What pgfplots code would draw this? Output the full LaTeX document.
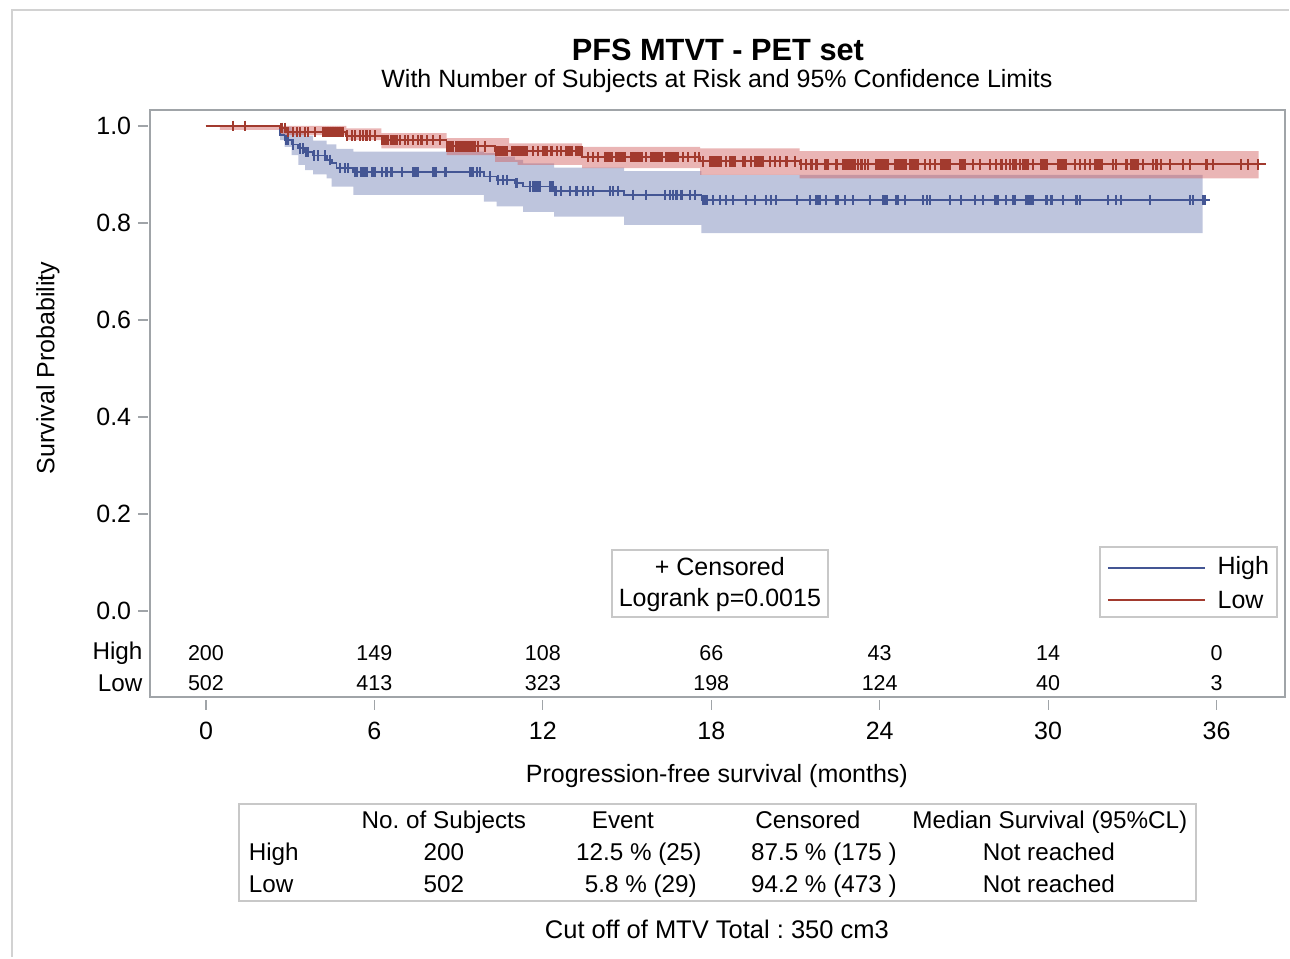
\documentclass[border=0pt]{standalone}
\usepackage{fontspec}
\setmainfont{Liberation Sans}
\usepackage{pgfplots}
\pgfplotsset{compat=1.18}
\usepgfplotslibrary{fillbetween}
\definecolor{hiblue}{HTML}{445694}
\definecolor{lored}{HTML}{A23A2E}
\definecolor{hifill}{HTML}{6F7EB3}
\definecolor{lofill}{HTML}{D05B5B}
\definecolor{axgray}{HTML}{A0A4A8}
\definecolor{boxgray}{HTML}{C8C8C8}
\newcommand{\ften}{\fontsize{10}{12}\selectfont}
\newcommand{\frisk}{\fontsize{8.6}{10}\selectfont}
\frenchspacing
\begin{document}
\begin{tikzpicture}
\path (0,0) rectangle (516pt,383.2pt);
\begin{axis}[
  at={(60pt,104.4pt)}, anchor=south west,
  width=454pt, height=234.8pt, scale only axis,
  xmin=-1.994, xmax=38.43, ymin=-0.1773, ymax=1.033,
  clip=false,
  axis line style={draw=axgray, line width=0.6pt},
  tick align=outside, tick pos=left, major tick length=4pt,
  tick style={draw=axgray, line width=0.5pt},
  xtick style={yshift=-1.2pt}, ytick style={xshift=-0.8pt},
  xtick={0,6,12,18,24,30,36}, xticklabels={0,6,12,18,24,30,36},
  ytick={0,0.2,0.4,0.6,0.8,1.0}, yticklabels={0.0,0.2,0.4,0.6,0.8,1.0},
  ticklabel style={font=\ften, text=black},
  xticklabel style={yshift=-2.5pt},
]
% ---- confidence bands ----
\addplot[name path=bu, draw=none, const plot, forget plot] coordinates {(0,1.0) (2.64,0.998) (3.05,0.99) (3.53,0.98) (3.82,0.97) (4.3,0.962) (4.65,0.953) (5.25,0.947) (9.9,0.944) (10.35,0.937) (11.0,0.93) (11.3,0.923) (12.4,0.914) (14.9,0.907) (17.65,0.899) (35.5,0.899)};
\addplot[name path=bl, draw=none, const plot, forget plot] coordinates {(0,1.0) (2.64,0.971) (2.8,0.957) (3.05,0.940) (3.29,0.920) (3.53,0.909) (3.82,0.900) (4.3,0.892) (4.48,0.875) (5.25,0.858) (9.9,0.844) (10.35,0.834) (11.3,0.823) (12.4,0.813) (14.9,0.796) (17.65,0.779) (35.5,0.779)};
\addplot[fill=hifill, fill opacity=0.45, draw=none, forget plot] fill between[of=bu and bl];
\addplot[name path=ru, draw=none, const plot, forget plot] coordinates {(0,1.0) (5.0,0.995) (6.25,0.985) (8.57,0.975) (10.8,0.964) (13.4,0.957) (17.6,0.954) (21.15,0.948) (37.5,0.948)};
\addplot[name path=rl, draw=none, const plot, forget plot] coordinates {(0,1.0) (0.5,0.992) (2.64,0.981) (5.0,0.971) (6.25,0.954) (8.57,0.940) (10.3,0.926) (11.1,0.920) (13.4,0.913) (17.6,0.899) (21.15,0.892) (37.5,0.892)};
\addplot[fill=lofill, fill opacity=0.45, draw=none, forget plot] fill between[of=ru and rl];
% ---- High curve ----
\addplot[hiblue, line width=0.7pt, const plot] coordinates {(0,1) (2.64,0.981) (2.8,0.971) (3.05,0.962) (3.29,0.954) (3.53,0.946) (3.82,0.939) (4.3,0.930) (4.48,0.923) (4.65,0.913) (5.25,0.905) (9.9,0.896) (10.35,0.889) (11.0,0.882) (11.3,0.875) (12.4,0.866) (14.9,0.858) (17.65,0.847) (35.76,0.847)};
\addplot[hiblue, only marks, mark=|, mark size=2.1pt, mark options={line width=0.85pt}] coordinates {
(2.85,0.971)(2.93,0.971)(3.11,0.962)(3.35,0.954)(3.47,0.954)(3.55,0.946)(3.60,0.946)(3.64,0.946)
(3.85,0.939)(4.00,0.939)(4.24,0.939)(4.42,0.930)(4.77,0.913)(4.95,0.913)(5.07,0.913)
(5.30,0.905)(5.37,0.905)(5.54,0.905)(5.60,0.905)(5.66,0.905)(5.72,0.905)(5.90,0.905)(5.96,0.905)(6.02,0.905)
(6.26,0.905)(6.43,0.905)(6.61,0.905)(6.97,0.905)(7.38,0.905)(7.44,0.905)(7.50,0.905)(7.56,0.905)
(8.10,0.905)(8.16,0.905)(8.20,0.905)(8.50,0.905)(8.55,0.905)(9.40,0.905)(9.46,0.905)(9.52,0.905)(9.64,0.905)(9.76,0.905)
(10.11,0.896)(10.41,0.889)(10.59,0.889)(10.71,0.889)(11.06,0.882)
(11.54,0.875)(11.66,0.875)(11.72,0.875)(11.78,0.875)(11.84,0.875)(11.90,0.875)(12.25,0.875)(12.31,0.875)(12.37,0.875)
(12.45,0.866)(12.66,0.866)(12.96,0.866)(13.20,0.866)(13.44,0.866)(13.62,0.866)(13.79,0.866)(14.39,0.866)(14.51,0.866)(14.68,0.866)
(15.22,0.858)(15.69,0.858)(16.35,0.858)(16.53,0.858)(16.65,0.858)(16.76,0.858)(16.94,0.858)(17.24,0.858)(17.41,0.858)
(17.71,0.847)(17.77,0.847)(17.83,0.847)(18.07,0.847)(18.31,0.847)(18.54,0.847)(18.78,0.847)(19.25,0.847)(19.55,0.847)
(19.96,0.847)(20.14,0.847)(20.32,0.847)(21.04,0.847)(21.51,0.847)(21.75,0.847)(21.81,0.847)(21.87,0.847)(22.10,0.847)
(22.46,0.847)(22.52,0.847)(22.76,0.847)(23.06,0.847)(23.65,0.847)(24.13,0.847)(24.19,0.847)(24.24,0.847)(24.60,0.847)
(24.66,0.847)(24.90,0.847)(25.55,0.847)(25.67,0.847)(25.78,0.847)(26.50,0.847)(26.91,0.847)(27.39,0.847)(27.68,0.847)
(28.10,0.847)(28.16,0.847)(28.22,0.847)(28.51,0.847)(28.75,0.847)(28.81,0.847)(29.23,0.847)(29.29,0.847)(29.35,0.847)
(29.41,0.847)(29.46,0.847)(29.94,0.847)(30.12,0.847)(30.53,0.847)(31.01,0.847)(31.13,0.847)(32.13,0.847)(32.43,0.847)
(32.61,0.847)(33.62,0.847)(35.04,0.847)(35.16,0.847)(35.52,0.847)(35.58,0.847)};
% ---- Low curve ----
\addplot[lored, line width=0.7pt, const plot] coordinates {(0,1) (2.64,0.996) (2.87,0.988) (5.0,0.980) (6.25,0.971) (8.57,0.958) (10.3,0.948) (13.4,0.936) (17.6,0.927) (21.15,0.921) (37.77,0.921)};
\addplot[lored, only marks, mark=|, mark size=2.1pt, mark options={line width=0.85pt}] coordinates {
(0.97,1)(1.39,1)(2.69,0.996)(2.81,0.996)
(2.93,0.988)(3.11,0.988)(3.23,0.988)(3.35,0.988)(3.53,0.988)(3.64,0.988)(3.88,0.988)(4.18,0.988)(4.24,0.988)(4.30,0.988)
(4.36,0.988)(4.42,0.988)(4.48,0.988)(4.54,0.988)(4.60,0.988)(4.66,0.988)(4.72,0.988)(4.78,0.988)(4.84,0.988)(4.89,0.988)
(5.01,0.980)(5.19,0.980)(5.31,0.980)(5.48,0.980)(5.60,0.980)(5.72,0.980)(5.84,0.980)(6.02,0.980)
(6.26,0.971)(6.34,0.971)(6.42,0.971)(6.50,0.971)(6.58,0.971)(6.66,0.971)(6.74,0.971)(6.82,0.971)(6.91,0.971)(7.09,0.971)
(7.21,0.971)(7.38,0.971)(7.56,0.971)(7.68,0.971)(7.86,0.971)(8.10,0.971)(8.33,0.971)
(8.60,0.958)(8.67,0.958)(8.73,0.958)(8.81,0.958)(8.90,0.958)(8.98,0.958)(9.06,0.958)(9.14,0.958)(9.22,0.958)(9.30,0.958)
(9.38,0.958)(9.46,0.958)(9.52,0.958)(9.58,0.958)(9.70,0.958)(9.94,0.958)
(10.35,0.948)(10.41,0.948)(10.47,0.948)(10.53,0.948)(10.59,0.948)(10.65,0.948)(10.71,0.948)(10.89,0.948)(10.95,0.948)
(11.01,0.948)(11.06,0.948)(11.12,0.948)(11.18,0.948)(11.24,0.948)(11.30,0.948)(11.36,0.948)(11.42,0.948)(11.66,0.948)
(11.84,0.948)(12.01,0.948)(12.07,0.948)(12.13,0.948)(12.31,0.948)(12.49,0.948)(12.66,0.948)(12.84,0.948)(12.90,0.948)
(12.96,0.948)(13.02,0.948)(13.20,0.948)(13.26,0.948)(13.32,0.948)(13.38,0.948)
(13.62,0.936)(13.79,0.936)(13.97,0.936)(14.21,0.936)(14.27,0.936)(14.33,0.936)(14.39,0.936)(14.45,0.936)(14.62,0.936)
(14.68,0.936)(14.74,0.936)(14.80,0.936)(14.86,0.936)(14.92,0.936)(15.16,0.936)(15.22,0.936)(15.28,0.936)(15.34,0.936)
(15.40,0.936)(15.46,0.936)(15.52,0.936)(15.69,0.936)(15.87,0.936)(15.93,0.936)(15.99,0.936)(16.05,0.936)(16.11,0.936)
(16.17,0.936)(16.23,0.936)(16.40,0.936)(16.46,0.936)(16.52,0.936)(16.58,0.936)(16.64,0.936)(16.70,0.936)(16.76,0.936)
(16.82,0.936)(17.00,0.936)(17.18,0.936)(17.41,0.936)(17.55,0.936)
(17.71,0.927)(17.95,0.927)(18.01,0.927)(18.07,0.927)(18.13,0.927)(18.19,0.927)(18.25,0.927)(18.31,0.927)(18.36,0.927)
(18.54,0.927)(18.66,0.927)(18.72,0.927)(18.78,0.927)(18.84,0.927)(19.14,0.927)(19.20,0.927)(19.43,0.927)(19.55,0.927)
(19.61,0.927)(19.67,0.927)(19.73,0.927)(19.79,0.927)(19.85,0.927)(20.09,0.927)(20.27,0.927)(20.44,0.927)(20.68,0.927)(20.97,0.927)
(21.21,0.921)(21.39,0.921)(21.57,0.921)(21.75,0.921)(22.05,0.921)(22.11,0.921)(22.16,0.921)(22.46,0.921)(22.70,0.921)
(22.76,0.921)(22.82,0.921)(22.88,0.921)(22.94,0.921)(23.00,0.921)(23.06,0.921)(23.12,0.921)(23.23,0.921)(23.35,0.921)
(23.47,0.921)(23.59,0.921)(23.88,0.921)(23.94,0.921)(24.00,0.921)(24.06,0.921)(24.12,0.921)(24.18,0.921)(24.24,0.921)
(24.30,0.921)(24.54,0.921)(24.60,0.921)(24.66,0.921)(24.72,0.921)(24.78,0.921)(24.84,0.921)(24.90,0.921)(24.95,0.921)
(25.07,0.921)(25.13,0.921)(25.19,0.921)(25.25,0.921)(25.31,0.921)(25.37,0.921)(25.60,0.921)(25.78,0.921)(25.96,0.921)
(26.20,0.921)(26.26,0.921)(26.32,0.921)(26.38,0.921)(26.44,0.921)(26.50,0.921)(26.85,0.921)(26.91,0.921)(26.97,0.921)
(27.03,0.921)(27.33,0.921)(27.56,0.921)(27.92,0.921)(28.15,0.921)(28.34,0.921)(28.51,0.921)(28.63,0.921)(28.75,0.921)
(28.81,0.921)(28.87,0.921)(28.99,0.921)(29.11,0.921)(29.17,0.921)(29.23,0.921)(29.28,0.921)(29.46,0.921)(29.76,0.921)
(29.82,0.921)(29.88,0.921)(29.94,0.921)(30.35,0.921)(30.41,0.921)(30.47,0.921)(30.53,0.921)(30.59,0.921)(30.65,0.921)
(30.95,0.921)(31.13,0.921)(31.30,0.921)(31.48,0.921)(31.66,0.921)(31.72,0.921)(31.78,0.921)(31.84,0.921)(31.90,0.921)
(32.31,0.921)(32.43,0.921)(32.79,0.921)(32.97,0.921)(33.03,0.921)(33.09,0.921)(33.15,0.921)(33.20,0.921)(33.38,0.921)
(33.74,0.921)(33.86,0.921)(34.03,0.921)(34.33,0.921)(34.80,0.921)(35.04,0.921)(35.64,0.921)(35.87,0.921)(36.88,0.921)
(37.12,0.921)(37.48,0.921)};
% ---- numbers at risk ----
\node[anchor=east, font=\fontsize{9.7}{11}\selectfont] at (axis cs:-1.95,-0.0866) {High};
\node[anchor=east, font=\fontsize{9.7}{11}\selectfont] at (axis cs:-1.95,-0.1485) {Low};
\node[font=\frisk] at (axis cs:0,-0.0866) {200};
\node[font=\frisk] at (axis cs:6,-0.0866) {149};
\node[font=\frisk] at (axis cs:12,-0.0866) {108};
\node[font=\frisk] at (axis cs:18,-0.0866) {66};
\node[font=\frisk] at (axis cs:24,-0.0866) {43};
\node[font=\frisk] at (axis cs:30,-0.0866) {14};
\node[font=\frisk] at (axis cs:36,-0.0866) {0};
\node[font=\frisk] at (axis cs:0,-0.1485) {502};
\node[font=\frisk] at (axis cs:6,-0.1485) {413};
\node[font=\frisk] at (axis cs:12,-0.1485) {323};
\node[font=\frisk] at (axis cs:18,-0.1485) {198};
\node[font=\frisk] at (axis cs:24,-0.1485) {124};
\node[font=\frisk] at (axis cs:30,-0.1485) {40};
\node[font=\frisk] at (axis cs:36,-0.1485) {3};
\end{axis}
\begin{scope}[shift={(0,383.2pt)}, x=0.4pt, y=-0.4pt]
  \draw[gray!35, line width=1pt] (12,957) -- (12,10) -- (1289,10);
  \node[font=\fontsize{12.3}{14}\selectfont\bfseries] at (718,50) {PFS MTVT - PET set};
  \node[font=\ften] at (717,81) {With Number of Subjects at Risk and 95\% Confidence Limits};
  \node[font=\ften, rotate=90] at (48,368) {Survival Probability};
  \node[font=\ften] at (717,776) {Progression-free survival (months)};
  % inset legend boxes
  \draw[boxgray, line width=0.6pt] (612,550) rectangle (828,617);
  \node[font=\ften] at (720,567) {+ Censored};
  \node[font=\ften] at (720,600) {Logrank p=0.0015};
  \draw[boxgray, line width=0.6pt] (1100,547) rectangle (1277,617);
  \draw[hiblue, line width=0.6pt] (1108,568) -- (1205,568);
  \draw[lored, line width=0.6pt] (1108,600) -- (1205,600);
  \node[font=\ften, anchor=west] at (1209,568) {High};
  \node[font=\ften, anchor=west] at (1209,600) {Low};
  % summary table
  \draw[boxgray, line width=0.6pt] (239,804) rectangle (1196,901);
  \begin{scope}[every node/.style={font=\fontsize{9.7}{11}\selectfont, text height=1.5ex, text depth=0.3ex}]
  \node at (444,821) {No. of Subjects};
  \node at (623,821) {Event};
  \node at (808,821) {Censored};
  \node at (1050,821) {Median Survival (95\%CL)};
  \node[anchor=west] at (240,853) {High};
  \node at (444,853) {200};
  \node at (639,853) {12.5 \% (25)};
  \node at (824,853) {87.5 \% (175 )};
  \node at (1049,853) {Not reached};
  \node[anchor=west] at (240,885) {Low};
  \node at (444,885) {502};
  \node at (641,885) {5.8 \% (29)};
  \node at (824,885) {94.2 \% (473 )};
  \node at (1049,885) {Not reached};
  \end{scope}
  \node[font=\fontsize{10.2}{12}\selectfont] at (717,930) {Cut off of MTV Total : 350 cm3};
\end{scope}
\end{tikzpicture}
\end{document}
